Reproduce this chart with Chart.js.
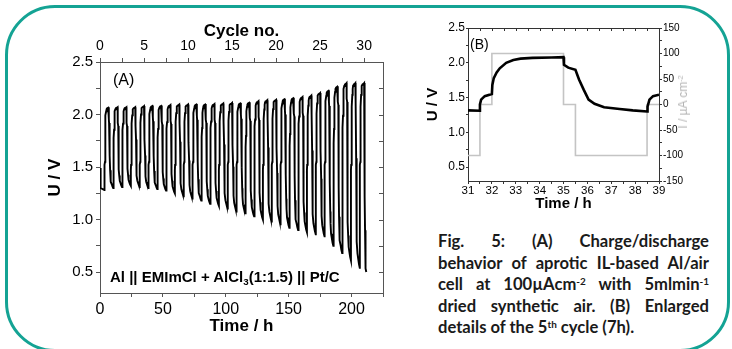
<!DOCTYPE html>
<html>
<head>
<meta charset="utf-8">
<script src="https://cdn.jsdelivr.net/npm/chart.js@4/dist/chart.umd.min.js"></script>
<style>
  html, body { margin:0; padding:0; background:#fff; }
  #page { position:relative; width:732px; height:349px; overflow:hidden; font-family:'Liberation Sans', Arial, sans-serif; }
  #frame { position:absolute; left:5px; top:5px; width:725px; height:347px; box-sizing:border-box; border:3px solid #14a394; border-radius:50px; }
  canvas { position:absolute; }
  #cA { left:0; top:0; }
  #cB { left:400px; top:0; }
  .lbl { position:absolute; white-space:nowrap; color:#000; }
  #cap { position:absolute; left:438px; top:231px; width:271px; font-family:Lato, 'Open Sans', sans-serif; font-weight:700; font-size:16.6px; line-height:21.5px; color:#1a1a1a; }
  #cap .j { text-align:justify; text-align-last:justify; }
  #cap sup, .lbl sup { font-size:0.6em; vertical-align:0; position:relative; top:-0.55em; line-height:0; }
  .lbl sub { font-size:0.65em; vertical-align:0; position:relative; top:0.3em; line-height:0; }
</style>
</head>
<body>
<div id="page">
  <div id="frame"></div>
  <canvas id="cA" width="400" height="349"></canvas>
  <canvas id="cB" width="332" height="220"></canvas>
  <div class="lbl" style="left:113px; top:71px; font-size:16px; line-height:18px;">(A)</div>
  <div class="lbl" style="left:110px; top:268px; font-size:15px; line-height:18px; font-weight:bold;">Al || EMImCl + AlCl<sub>3</sub>(1:1.5) || Pt/C</div>
  <div class="lbl" style="left:470px; top:36px; font-size:14px; line-height:16px;">(B)</div>
  <div class="lbl" style="left:683px; top:102px; font-size:12px; line-height:14px; color:#b4b4b4; transform:translate(-50%,-50%) rotate(-90deg);">I / µA cm<sup>-2</sup></div>
  <div id="cap">
    <div class="j">Fig. 5: (A) Charge/discharge</div>
    <div class="j">behavior of aprotic IL-based Al/air</div>
    <div class="j">cell at 100µAcm<sup>-2</sup> with 5mlmin<sup>-1</sup></div>
    <div class="j">dried synthetic air. (B) Enlarged</div>
    <div>details of the 5<sup>th</sup> cycle (7h).</div>
  </div>
</div>
<script>
// ---------- Panel B: 5th cycle ----------
const bTimeH   = [31, 31.5, 31.5, 31.55, 31.7, 32, 32.02, 32.08, 32.2, 32.33, 32.6, 32.9, 33.2, 33.7, 34.5, 35, 35.02, 35.2, 35.5, 35.65, 35.85, 36.05, 36.3, 36.7, 37.35, 37.9, 38.5, 38.52, 38.6, 38.75, 39];
const bVoltage = [1.315, 1.31, 1.40, 1.47, 1.52, 1.55, 1.68, 1.78, 1.86, 1.92, 2.00, 2.04, 2.06, 2.07, 2.075, 2.08, 1.97, 1.93, 1.90, 1.76, 1.61, 1.47, 1.41, 1.36, 1.335, 1.315, 1.30, 1.37, 1.47, 1.52, 1.54];
const bCurrentTimeH = [31, 31.5, 31.5, 32, 32, 35, 35, 35.5, 35.5, 38.5, 38.5, 39];
const bCurrent      = [-100, -100, 0, 0, 100, 100, 0, 0, -100, -100, 0, 0];

// ---------- Panel A: 30 cycles ----------
const cycleNo = [1,2,3,4,5,6,7,8,9,10,11,12,13,14,15,16,17,18,19,20,21,22,23,24,25,26,27,28,29,30];
const chargeEndU    = [2.07,2.07,2.07,2.07,2.08,2.085,2.085,2.09,2.095,2.095,2.10,2.10,2.10,2.105,2.11,2.11,2.117,2.127,2.136,2.14,2.15,2.16,2.167,2.18,2.205,2.23,2.27,2.30,2.30,2.30];
const dischargeEndU = [1.30,1.31,1.32,1.31,1.30,1.29,1.275,1.25,1.22,1.20,1.18,1.15,1.13,1.105,1.075,1.06,1.03,1.00,0.98,0.955,0.92,0.90,0.88,0.86,0.84,0.75,0.68,0.61,0.54,0.50];
const startTimeH = [0, 0.5, 0.5, 3.5];
const startU     = [1.49, 1.47, 1.30, 1.28];
const lastPointH = 211.7;
const cycleHours = 7;

// tick label arrays
const yTicksA = [0.5, 1.0, 1.5, 2.0, 2.5];
const xTicksA = [0, 50, 100, 150, 200];
const cycleTicks = [0, 5, 10, 15, 20, 25, 30];

// Build panel A series: each cycle follows the measured 5th-cycle profile,
// anchored to that cycle's read charge-end and discharge-end voltages.
const refPeak = 2.08, refLow = 1.30, refOcv = 1.55, refDisStart = 1.90, refEnd = 35;
const pointsA = startTimeH.map((t, i) => ({x: t, y: startU[i]}));
cycleNo.forEach((n, k) => {
  const peak = chargeEndU[k], low = dischargeEndU[k];
  const tEnd = cycleHours * n;
  const last = (k === cycleNo.length - 1);
  for (let i = 2; i <= 26; i++) {
    const off = bTimeH[i] - refEnd;
    const u = bVoltage[i];
    let y, x = tEnd + off;
    if (off <= -3) y = u;
    else if (off <= 0) y = refOcv + (u - refOcv) * (peak - refOcv) / (refPeak - refOcv);
    else if (off <= 0.5) y = u + (peak - refPeak);
    else {
      y = low + (u - refLow) * (refDisStart - low) / (refDisStart - refLow);
      if (last) x = tEnd + 0.5 + (off - 0.5) * (lastPointH - tEnd - 0.5) / 3;
    }
    pointsA.push({x, y});
  }
});

Chart.defaults.font.family = "'Liberation Sans', Arial, sans-serif";
Chart.defaults.color = '#000';

const near = (v, list) => list.some(t => Math.abs(t - v) < 1e-6);
const axisCol = '#555';

const frameA = {
  id: 'frameA',
  afterDraw(chart) {
    const {ctx, chartArea: a, scales} = chart;
    ctx.save();
    ctx.strokeStyle = axisCol; ctx.lineWidth = 1;
    ctx.beginPath(); ctx.moveTo(a.right + 0.5, a.top); ctx.lineTo(a.right + 0.5, a.bottom); ctx.stroke();
    scales.y.ticks.forEach(t => {
      const py = Math.round(scales.y.getPixelForValue(t.value)) + 0.5;
      ctx.beginPath(); ctx.moveTo(a.right - 4, py); ctx.lineTo(a.right, py); ctx.stroke();
    });
    ctx.restore();
  }
};

new Chart(document.getElementById('cA'), {
  type: 'line',
  data: { datasets: [{ data: pointsA, borderColor: '#000', borderWidth: 1.9, pointRadius: 0, tension: 0, xAxisID: 'x', yAxisID: 'y' }] },
  options: {
    responsive: false, animation: false, events: [],
    layout: { padding: { left: 0, right: 17, top: 0, bottom: 0 } },
    plugins: { legend: { display: false }, tooltip: { enabled: false } },
    scales: {
      x: {
        type: 'linear', position: 'bottom', min: 0, max: 225,
        afterFit: s => { s.height = 56; },
        ticks: { stepSize: 25, includeBounds: false, autoSkip: false, maxRotation: 0, padding: 3, font: { size: 16 },
                 callback: v => near(v, xTicksA) ? String(v) : '' },
        grid: { drawOnChartArea: false, tickLength: 4, color: axisCol },
        border: { color: axisCol },
        title: { display: true, text: 'Time / h', font: { size: 17, weight: 'bold' }, padding: { top: 0, bottom: 12 } }
      },
      x2: {
        type: 'linear', position: 'top', min: 0, max: 225 / 7,
        afterFit: s => { s.height = 62; },
        ticks: { stepSize: 2.5, includeBounds: false, autoSkip: false, maxRotation: 0, padding: 3, font: { size: 14 },
                 callback: v => near(v, cycleTicks) ? String(v) : '' },
        grid: { drawOnChartArea: false, tickLength: 4, color: axisCol },
        border: { color: axisCol },
        title: { display: true, text: 'Cycle no.', font: { size: 17, weight: 'bold' }, padding: { top: 21, bottom: 0 } }
      },
      y: {
        type: 'linear', position: 'left', min: 0.3, max: 2.5,
        afterFit: s => { s.width = 100; },
        ticks: { stepSize: 0.25, includeBounds: false, autoSkip: false, padding: 3, font: { size: 15 },
                 callback: v => near(v, yTicksA) ? v.toFixed(1) : '' },
        grid: { drawOnChartArea: false, tickLength: 4, color: axisCol },
        border: { color: axisCol },
        title: { display: true, text: 'U / V', font: { size: 17, weight: 'bold' }, padding: { top: 45, bottom: 0 } }
      }
    }
  },
  plugins: [frameA]
});

// ---------- Panel B ----------
const yTicksB = [0.5, 1.0, 1.5, 2.0, 2.5];
const iTicksB = [-150, -100, -50, 0, 50, 100, 150];
const xTicksB = [31, 32, 33, 34, 35, 36, 37, 38, 39];

const frameB = {
  id: 'frameB',
  afterDraw(chart) {
    const {ctx, chartArea: a, scales} = chart;
    ctx.save();
    ctx.strokeStyle = '#333'; ctx.lineWidth = 1;
    ctx.beginPath(); ctx.moveTo(a.left, a.top + 0.5); ctx.lineTo(a.right, a.top + 0.5); ctx.stroke();
    scales.x.ticks.forEach(t => {
      const px = Math.round(scales.x.getPixelForValue(t.value)) + 0.5;
      ctx.beginPath(); ctx.moveTo(px, a.top); ctx.lineTo(px, a.top + 3); ctx.stroke();
    });
    ctx.restore();
  }
};

new Chart(document.getElementById('cB'), {
  type: 'line',
  data: {
    datasets: [
      { data: bTimeH.map((t, i) => ({x: t, y: bVoltage[i]})), borderColor: '#000', borderWidth: 2.6, pointRadius: 0, tension: 0, xAxisID: 'x', yAxisID: 'y' },
      { data: bCurrentTimeH.map((t, i) => ({x: t, y: bCurrent[i]})), borderColor: '#c4c4c4', borderWidth: 1.6, pointRadius: 0, tension: 0, xAxisID: 'x', yAxisID: 'y2' }
    ]
  },
  options: {
    responsive: false, animation: false, events: [],
    layout: { padding: { left: 0, right: 0, top: 28, bottom: 0 } },
    plugins: { legend: { display: false }, tooltip: { enabled: false } },
    scales: {
      x: {
        type: 'linear', position: 'bottom', min: 31, max: 39,
        afterFit: s => { s.height = 39; },
        ticks: { stepSize: 0.5, includeBounds: false, autoSkip: false, maxRotation: 0, padding: 0, font: { size: 11.5 },
                 callback: v => near(v, xTicksB) ? String(v) : '' },
        grid: { drawOnChartArea: false, tickLength: 3, color: '#333' },
        border: { color: '#333' },
        title: { display: true, text: 'Time / h', font: { size: 15, weight: 'bold' }, padding: { top: 0, bottom: 7 } }
      },
      y: {
        type: 'linear', position: 'left', min: 0.3, max: 2.5,
        afterFit: s => { s.width = 68; },
        ticks: { stepSize: 0.25, includeBounds: false, autoSkip: false, padding: 1, font: { size: 12 },
                 callback: v => near(v, yTicksB) ? v.toFixed(1) : '' },
        grid: { drawOnChartArea: false, tickLength: 2, color: '#333' },
        border: { color: '#333' },
        title: { display: true, text: 'U / V', font: { size: 15, weight: 'bold' }, padding: { top: 24, bottom: 0 } }
      },
      y2: {
        type: 'linear', position: 'right', min: -150, max: 150,
        afterFit: s => { s.width = 73; },
        ticks: { stepSize: 25, includeBounds: false, autoSkip: false, padding: 1, font: { size: 10 },
                 callback: v => near(v, iTicksB) ? String(v) : '' },
        grid: { drawOnChartArea: false, tickLength: 3, color: '#333' },
        border: { color: '#333' },
        title: { display: false }
      }
    }
  },
  plugins: [frameB]
});
</script>
</body>
</html>
